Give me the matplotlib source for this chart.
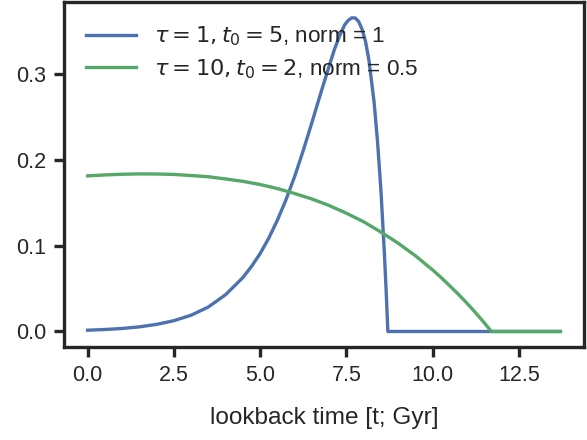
import numpy as np
import matplotlib
matplotlib.use("Agg")
import matplotlib.pyplot as plt

# values (lookback time in Gyr, SFR)
t_blue = [0.0, 0.5, 1.0, 1.5, 2.0, 2.5, 3.0, 3.5, 4.0, 4.5, 4.75, 5.0, 5.25, 5.5, 5.75,
          6.0, 6.25, 6.5, 6.75, 7.0, 7.15, 7.3, 7.45, 7.55, 7.65, 7.75, 7.85, 7.95, 8.05,
          8.15, 8.3, 8.4, 8.5, 8.6, 8.65, 8.7, 13.7]
sfr_blue = [0.0015, 0.0023, 0.0035, 0.0054, 0.0083, 0.0126, 0.019, 0.0286, 0.043, 0.063,
            0.076, 0.091, 0.109, 0.13, 0.154, 0.181, 0.2115, 0.244, 0.2775, 0.31, 0.329,
            0.345, 0.358, 0.363, 0.366, 0.366, 0.362, 0.353, 0.339, 0.317, 0.268, 0.222,
            0.164, 0.0905, 0.0476, 0.0, 0.0]

t_green = [0.0, 0.5, 1.0, 1.5, 2.0, 2.5, 3.0, 3.5, 4.0, 4.5, 5.0, 5.5, 6.0, 6.5, 7.0,
           7.5, 8.0, 8.5, 9.0, 9.5, 10.0, 10.25, 10.5, 10.75, 11.0, 11.25, 11.5, 11.7, 13.7]
sfr_green = [0.1816, 0.1827, 0.1835, 0.1839, 0.1838, 0.1833, 0.182, 0.1806, 0.178, 0.1752,
             0.1715, 0.1668, 0.161, 0.1546, 0.147, 0.138, 0.128, 0.116, 0.103, 0.0883,
             0.0717, 0.0627, 0.053, 0.0432, 0.0326, 0.0215, 0.0098, 0.0, 0.0]

labels = [r"$\tau = 1, t_0 = 5$, norm = 1", r"$\tau = 10, t_0 = 2$, norm = 0.5"]
colors = ["#4C72B0", "#55A868"]

plt.rcParams['font.family'] = ['Liberation Sans', 'DejaVu Sans']
plt.rcParams['mathtext.fontset'] = 'dejavusans'
plt.rcParams['axes.linewidth'] = 2.4
plt.rcParams['xtick.major.width'] = 2.4
plt.rcParams['ytick.major.width'] = 2.4
plt.rcParams['xtick.major.size'] = 7
plt.rcParams['ytick.major.size'] = 7
plt.rcParams['xtick.color'] = '#262626'
plt.rcParams['ytick.color'] = '#262626'
plt.rcParams['axes.edgecolor'] = '#262626'
plt.rcParams['text.color'] = '#262626'
plt.rcParams['axes.labelcolor'] = '#262626'

fig = plt.figure(figsize=(5.87, 4.4), dpi=100)
ax = fig.add_axes([0.109, 0.211, 0.886, 0.784])

ax.plot(t_blue, sfr_blue, color=colors[0], lw=2.4, label=labels[0])
ax.plot(t_green, sfr_green, color=colors[1], lw=2.4, label=labels[1])

ax.set_xticks([0, 2.5, 5, 7.5, 10, 12.5])
ax.set_yticks([0.0, 0.1, 0.2, 0.3])
ax.tick_params(labelsize=15.5, pad=6)
ax.set_xlabel("lookback time [t; Gyr]", fontsize=17.6, labelpad=15)
ax.legend(loc='upper left', frameon=False, fontsize=16.2, handlelength=2.2,
          borderaxespad=0.6, labelspacing=0.4)

fig.savefig("out.png", dpi=100)
